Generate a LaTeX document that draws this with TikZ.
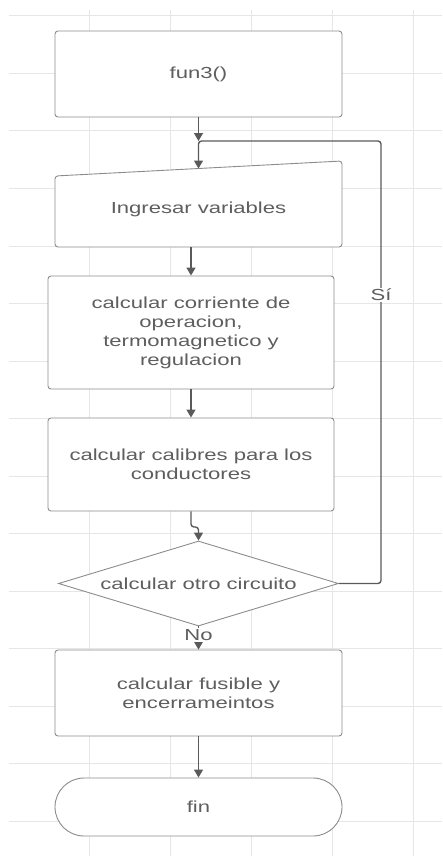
\documentclass[tikz,border=0pt]{standalone}
\usepackage{fontspec}
\setmainfont{Liberation Sans}
\newfontfamily\dfont[FakeStretch=1.38]{Liberation Sans}
\usetikzlibrary{arrows.meta,shapes.geometric}
\definecolor{gridc}{HTML}{E6E6E6}
\definecolor{boxc}{HTML}{8C8C8C}
\definecolor{linec}{HTML}{5A5A5A}
\definecolor{txtc}{HTML}{5E5E5E}
\begin{document}
\begin{tikzpicture}[x=1pt,y=-1pt,
  tfont/.style={font=\dfont\fontsize{16}{19}\selectfont, text=txtc},
  box/.style={draw=boxc, line width=0.9pt, fill=white, rounded corners=3pt,
    minimum width=287pt, inner sep=0pt, align=center, tfont},
  txt/.style={inner sep=0pt, align=center, tfont},
  conn/.style={draw=linec, line width=1.4pt, -{Triangle[length=8pt,width=9pt]}},
  lbl/.style={fill=white, inner sep=1.5pt, tfont}]
\useasboundingbox (0,0) rectangle (442,856);
% grid
\foreach \x in {89,170,251,332,413} \draw[gridc, line width=1pt] (\x,10) -- (\x,856);
\foreach \k in {0,...,14} \draw[gridc, line width=1pt] (9,{16+57.5*\k}) -- (442,{16+57.5*\k});
% nodes
\node[box, minimum height=86pt] (f) at (198.5,74) {fun3()};
\draw[draw=boxc, line width=0.9pt, fill=white, rounded corners=3pt]
  (55,176) -- (342,161) -- (342,247) -- (55,247) -- cycle;
\node[txt] (inp) at (198.5,209) {Ingresar variables};
\coordinate (inpT) at (198.5,168.5);
\coordinate (inpB) at (191,247);
\node[box, minimum width=286pt, minimum height=113pt] (c1) at (191,332.5)
  {calcular corriente de\\operacion,\\termomagnetico y\\regulacion};
\node[box, minimum width=286pt, minimum height=93pt] (c2) at (191,464.5)
  {calcular calibres para los\\conductores};
\node[diamond, aspect=3.3, draw=boxc, line width=0.9pt, fill=white, inner sep=0pt,
  minimum width=280pt, minimum height=85pt, tfont] (d) at (198.5,583.5) {calcular otro circuito};
\node[box, minimum height=86pt] (fu) at (198.5,693) {calcular fusible y\\encerrameintos};
\node[box, minimum height=58pt, rounded corners=29pt] (fin) at (198.5,807) {fin};
% connectors
\coordinate (j) at (198.5,141);
\coordinate (r1) at (381,583.5);
\coordinate (r2) at (381,141);
\coordinate (b1) at (191,527);
\draw[conn] (f.south) -- (j);
\draw[conn, rounded corners=3pt] (d.east) -- (r1) -- (r2) -- (j) -- (inpT);
\node[lbl] (si) at (381,295) {Sí};
\draw[conn] (inpB) -- (c1.north);
\draw[conn] (c1.south) -- (c2.north);
\draw[conn, rounded corners=3pt] (c2.south) -- (b1) -| (d.north);
\draw[conn] (d.south) -- (fu.north);
\node[lbl] (no) at (198.5,635) {No};
\draw[conn] (fu.south) -- (fin.north);
\end{tikzpicture}
\end{document}
